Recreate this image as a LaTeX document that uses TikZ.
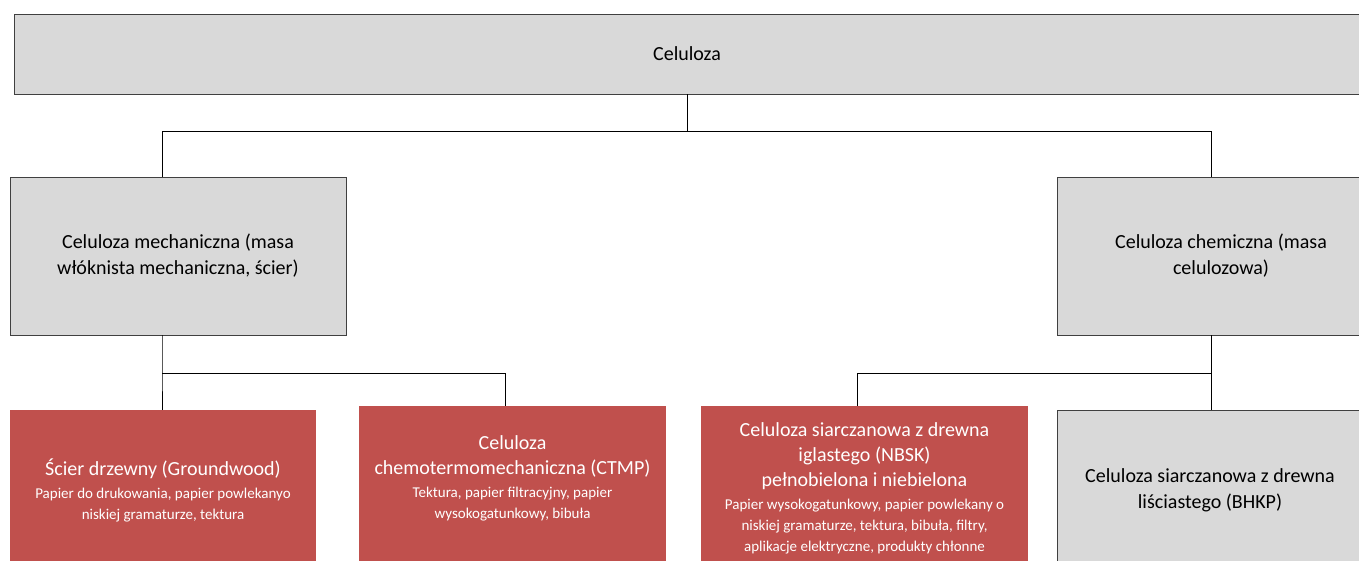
\documentclass[tikz,border=0pt]{standalone}
\usepackage{fontspec}
\setmainfont{Carlito}
\definecolor{boxgray}{HTML}{D9D9D9}
\definecolor{boxred}{HTML}{C0504D}
\definecolor{edgegray}{HTML}{404040}
\newcommand\smtxt{\fontsize{15}{20}\selectfont}
\begin{document}
\begin{tikzpicture}[x=1pt,y=-1pt,
  graybox/.style={draw=edgegray, line width=0.9pt, fill=boxgray, inner sep=0pt, outer sep=0pt, align=center, font=\fontsize{20}{26}\selectfont},
  redbox/.style={fill=boxred, text=white, inner sep=0pt, outer sep=0pt, align=center, font=\fontsize{20}{25}\selectfont},
  conn/.style={draw=black, line width=0.8pt}]
\useasboundingbox (0,0) rectangle (1359,560);
\node[graybox, minimum width=1346, minimum height=80] (top) at (687,54) {Celuloza};
\node[graybox, minimum width=336, minimum height=158] (mid1) at (178,256) {Celuloza mechaniczna (masa\\włóknista mechaniczna, ścier)};
\node[graybox, minimum width=328, minimum height=158] (mid2) at (1221,256) {Celuloza chemiczna (masa\\celulozowa)};
\node[redbox, minimum width=306, minimum height=160] (r1) at (163,490) {Ścier drzewny (Groundwood)\\[-2pt] \smtxt Papier do drukowania, papier powlekanyo\\[-4pt] \smtxt niskiej gramaturze, tektura};
\node[redbox, minimum width=307, minimum height=164] (r2) at (512.5,488) {Celuloza\\chemotermomechaniczna (CTMP)\\[-2pt] \smtxt Tektura, papier filtracyjny, papier\\[-4pt] \smtxt wysokogatunkowy, bibuła\\[-4pt] \mbox{}};
\node[redbox, minimum width=327, minimum height=164] (r3) at (864.5,488) {Celuloza siarczanowa z drewna\\iglastego (NBSK)\\pełnobielona i niebielona\\[-2pt] \smtxt Papier wysokogatunkowy, papier powlekany o\\[-4pt] \smtxt niskiej gramaturze, tektura, bibuła, filtry,\\[-4pt] \smtxt aplikacje elektryczne, produkty chłonne};
\node[graybox, minimum width=306, minimum height=160] (b4) at (1210,490) {Celuloza siarczanowa z drewna\\liściastego (BHKP)};
\coordinate (j1) at (162,131);
\coordinate (j2) at (1211,131);
\coordinate (k1) at (162,373);
\coordinate (k2) at (505,373);
\coordinate (k3) at (1211,373);
\coordinate (k4) at (857,373);
\draw[conn] (top.south) |- (j1) -- (j1 |- mid1.north);
\draw[conn] (top.south) |- (j2) -- (j2 |- mid2.north);
\draw[conn] (mid1.south -| k1) -- (k1) -- (k1 |- r1.north);
\draw[conn] (k1) -- (k2) -- (k2 |- r2.north);
\draw[conn] (mid2.south -| k3) -- (k3 |- b4.north);
\draw[conn] (k3) -- (k4) -- (k4 |- r3.north);
\end{tikzpicture}
\end{document}
